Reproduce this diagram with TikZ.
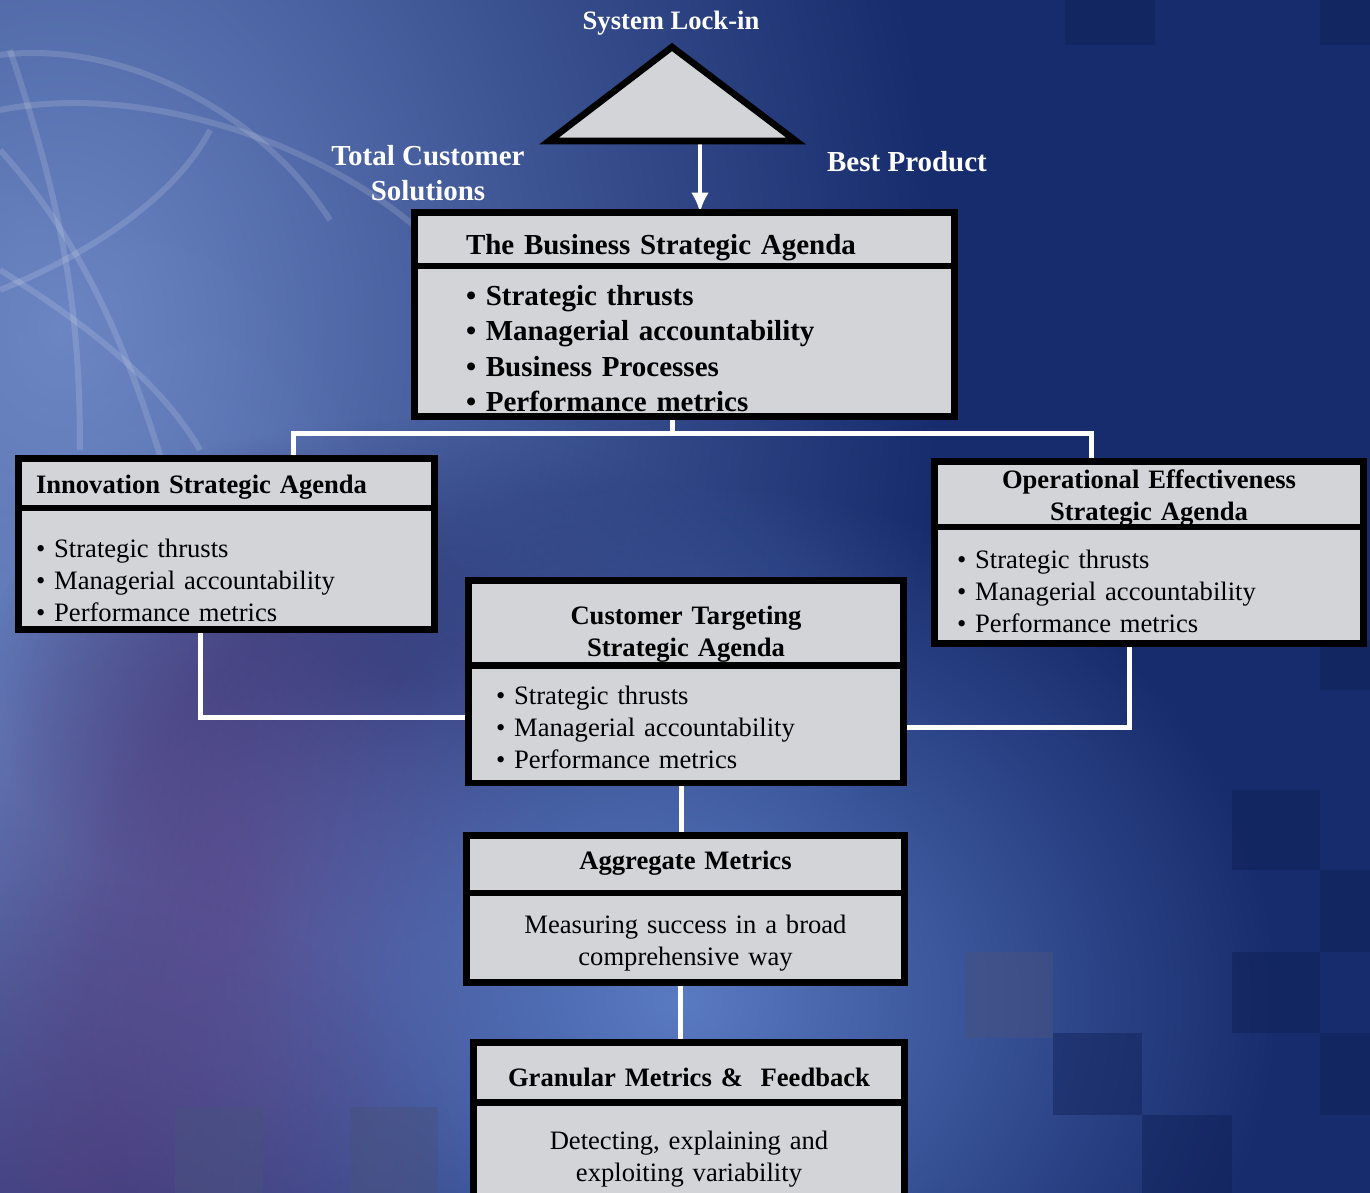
\documentclass[tikz,border=0pt]{standalone}
\usepackage{fontspec}
\setmainfont{Liberation Serif}
\usetikzlibrary{arrows.meta,positioning,fadings}
\pgfdeclarelayer{back}
\pgfsetlayers{back,main}
\definecolor{card-gray}{HTML}{D3D4D8}
\definecolor{bg-navy}{HTML}{172C6C}
\definecolor{bg-light}{HTML}{6C86C4}
\definecolor{bg-mid}{HTML}{5A7AC2}
\definecolor{bg-purple}{HTML}{5A3C7C}
\definecolor{bg-dusk}{HTML}{1E2460}
\definecolor{bg-tile}{HTML}{0E1F55}
\definecolor{bg-grey}{HTML}{48527E}
\tikzfading[name=glow, inner color=transparent!0, outer color=transparent!100]

\begin{document}
\begin{tikzpicture}[x=0.5pt, y=-0.5pt, >=Latex,
    card/.style={draw=black, line width=3.3pt, fill=card-gray, outer sep=0pt, inner ysep=0pt},
    cardhead/.style={card, font=\fontsize{13.3}{16}\selectfont\bfseries},
    cardbody/.style={card, font=\fontsize{13.3}{16}\selectfont, align=left},
    baseline at/.style 2 args={text height=#1, text depth=#2},
    tri/.style={draw=black, line width=3.3pt, fill=card-gray},
    toplabel/.style={text=white, font=\fontsize{14.5}{17.5}\selectfont\bfseries, align=center},
    link/.style={draw=white, line width=2.5pt},
    swirl/.style={draw=white, opacity=0.14, line width=3pt}]

\useasboundingbox (0,0) rectangle (1370,1193);

% background
\begin{pgfonlayer}{back}
  \fill[bg-navy] (0,0) rectangle (1370,1193);
  \fill[bg-light, path fading=glow] (60,330) ellipse (880 and 1150);
  \fill[bg-light, path fading=glow, opacity=0.7] (0,720) ellipse (420 and 600);
  \fill[bg-dusk, path fading=glow, opacity=0.75] (400,680) ellipse (420 and 260);
  \fill[bg-purple, path fading=glow, opacity=0.85] (240,900) ellipse (320 and 460);
  \fill[bg-mid, path fading=glow] (680,1000) ellipse (600 and 520);
  \fill[bg-purple, path fading=glow, opacity=0.5] (60,1180) ellipse (400 and 300);
  \foreach \tx/\ty/\tw/\th in {1065/0/90/45, 1320/0/50/45, 1320/640/50/50,
      1232/790/88/80, 1320/870/50/82, 1232/952/88/81, 1320/1033/50/82,
      1142/1115/90/78, 1053/1033/89/82}
    \fill[bg-tile, opacity=0.45] (\tx,\ty) rectangle ++(\tw,\th);
  \foreach \tx/\ty in {965/952, 175/1107, 350/1107}
    \fill[bg-grey, opacity=0.5] (\tx,\ty) rectangle ++(88,86);
  \draw[swirl] (0,55) .. controls (120,40) and (260,110) .. (330,220);
  \draw[swirl] (0,110) .. controls (150,80) and (350,150) .. (450,260);
  \draw[swirl] (10,50) .. controls (60,200) and (80,300) .. (80,450);
  \draw[swirl] (0,290) .. controls (100,250) and (180,190) .. (210,130);
  \draw[swirl] (0,150) .. controls (100,260) and (150,400) .. (200,600);
  \draw[swirl] (0,270) .. controls (80,320) and (160,380) .. (200,450);
\end{pgfonlayer}

% top of the hierarchy
\draw[tri] (672,47) coordinate (apex) -- (796,141) -- (549,141) coordinate (baseL) -- cycle;
\coordinate (lockout) at (700,141);
\node[toplabel, font=\fontsize{13.3}{16}\selectfont\bfseries] (lockin) at (671,23) {System Lock-in};
\node[toplabel] (solutions) at (428,173) {Total Customer\\Solutions};
\node[toplabel] (product) at (907,162) {Best Product};

% business agenda
\node[cardhead, baseline at={20.75pt}{6pt}, anchor=north west, minimum width=270pt,
      text width=218.5pt, inner xsep=25.75pt, align=left,
      font=\fontsize{14.5}{17.75}\selectfont\bfseries] (bsaHead) at (414.5,212.5)
      {The Business Strategic Agenda};
\node[cardbody, baseline at={19.5pt}{55.75pt}, below=0pt of bsaHead, minimum width=270pt,
      text width=218.5pt, inner xsep=25.75pt,
      font=\fontsize{14.5}{17.75}\selectfont\bfseries] (bsaBody)
      {\textbullet\ Strategic thrusts\\ \textbullet\ Managerial accountability\\
       \textbullet\ Business Processes\\ \textbullet\ Performance metrics};

% innovation
\node[cardhead, baseline at={17.5pt}{7.25pt}, anchor=north west, minimum width=208pt,
      text width=190.5pt, inner xsep=8.75pt, align=left] (innHead) at (18.5,458.5)
      {Innovation Strategic Agenda};
\node[cardbody, baseline at={24.75pt}{36pt}, below=0pt of innHead, minimum width=208pt,
      text width=190.5pt, inner xsep=8.75pt] (innBody)
      {\textbullet\ Strategic thrusts\\ \textbullet\ Managerial accountability\\
       \textbullet\ Performance metrics};

% operational effectiveness
\node[cardhead, baseline at={13.5pt}{19.25pt}, anchor=north west, minimum width=214.5pt,
      text width=192pt, inner xsep=11.25pt, align=center] (oeHead) at (934.5,461.5)
      {Operational Effectiveness\\Strategic Agenda};
\node[cardbody, baseline at={20.75pt}{37.5pt}, below=0pt of oeHead, minimum width=214.5pt,
      text width=192pt, inner xsep=11.25pt] (oeBody)
      {\textbullet\ Strategic thrusts\\ \textbullet\ Managerial accountability\\
       \textbullet\ Performance metrics};

% customer targeting
\node[cardhead, baseline at={22pt}{20.5pt}, anchor=north west, minimum width=217.5pt,
      text width=190pt, inner xsep=13.75pt, align=center] (ctHead) at (468.5,580.5)
      {Customer Targeting\\Strategic Agenda};
\node[cardbody, baseline at={19.5pt}{39.25pt}, below=0pt of ctHead, minimum width=217.5pt,
      text width=190pt, inner xsep=13.75pt] (ctBody)
      {\textbullet\ Strategic thrusts\\ \textbullet\ Managerial accountability\\
       \textbullet\ Performance metrics};

% aggregate metrics
\node[cardhead, baseline at={17pt}{11.75pt}, anchor=north west, minimum width=219pt,
      text width=199pt, inner xsep=10pt, align=center] (aggHead) at (466.5,835.5)
      {Aggregate Metrics};
\node[cardbody, baseline at={20.25pt}{24.5pt}, below=0pt of aggHead, minimum width=219pt,
      text width=199pt, inner xsep=10pt, align=center] (aggBody)
      {Measuring success in a broad\\comprehensive way};

% granular metrics
\node[cardhead, baseline at={21.75pt}{8.25pt}, anchor=north west, minimum width=215.5pt,
      text width=195.5pt, inner xsep=10pt, align=center] (granHead) at (473.5,1042.5)
      {Granular Metrics \&~ Feedback};
\node[cardbody, baseline at={23.5pt}{31pt}, below=0pt of granHead, minimum width=215.5pt,
      text width=195.5pt, inner xsep=10pt, align=center] (granBody)
      {Detecting, explaining and\\exploiting variability};

% connectors
\begin{pgfonlayer}{back}
  \draw[link, line width=2pt, -{Latex[length=10pt, width=9pt]}] (lockout) -- (lockout |- bsaHead.north);
  \draw[link] ([xshift=-6.25pt]bsaBody.south) -- ++(0,17);
  \draw[link] ([xshift=33.25pt]innHead.north) -- ++(0,-25.5) -| ([xshift=-29pt]oeHead.north);
  \draw[link] ([xshift=-13.25pt]innBody.south) |- ([yshift=3.5pt]ctBody.west);
  \draw[link] ([xshift=-10pt]oeBody.south) |- ([yshift=-1.5pt]ctBody.east);
  \draw[link] ([xshift=-2.5pt]ctBody.south) -- ([xshift=-2.5pt]ctBody.south |- aggHead.north);
  \draw[link] ([xshift=-2.75pt]aggBody.south) -- ([xshift=-2.75pt]aggBody.south |- granHead.north);
\end{pgfonlayer}
\end{tikzpicture}
\end{document}
